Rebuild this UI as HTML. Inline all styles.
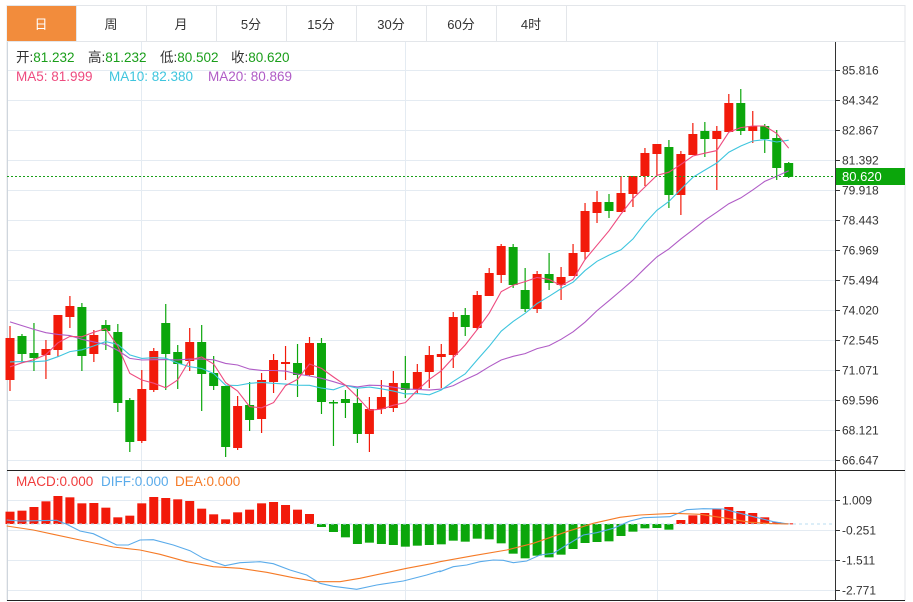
<!DOCTYPE html>
<html><head><meta charset="utf-8"><style>
body{margin:0;background:#fff;width:913px;height:602px;overflow:hidden;font-family:"Liberation Sans","Noto Sans CJK SC",sans-serif}
</style></head><body>
<svg id="s" width="913" height="602" xmlns="http://www.w3.org/2000/svg" style="position:absolute;left:0;top:0">
<rect x="7" y="5.5" width="898" height="595" fill="none" stroke="#e3e6ea"/>
<rect x="7" y="6" width="69" height="35" fill="#f28c3c"/>
<g stroke="#e3e6ea"><line x1="7" y1="41.5" x2="905" y2="41.5"/>
<line x1="76.5" y1="6" x2="76.5" y2="41"/><line x1="146.5" y1="6" x2="146.5" y2="41"/><line x1="216.5" y1="6" x2="216.5" y2="41"/><line x1="286.5" y1="6" x2="286.5" y2="41"/><line x1="356.5" y1="6" x2="356.5" y2="41"/><line x1="426.5" y1="6" x2="426.5" y2="41"/><line x1="496.5" y1="6" x2="496.5" y2="41"/><line x1="566.5" y1="6" x2="566.5" y2="41"/></g>
<g font-size="13" text-anchor="middle" fill="#333"><text x="41" y="29" fill="#fff">日</text><text x="111" y="29">周</text><text x="181" y="29">月</text><text x="251" y="29">5分</text><text x="321" y="29">15分</text><text x="391" y="29">30分</text><text x="461" y="29">60分</text><text x="531" y="29">4时</text></g>
<g id="grid" stroke="#e4ebf2"></g>
<g font-size="13.5">
<text y="62" fill="#333"><tspan x="16">开:</tspan><tspan fill="#1a9e1a">81.232</tspan><tspan x="88">高:</tspan><tspan fill="#1a9e1a">81.232</tspan><tspan x="160">低:</tspan><tspan fill="#1a9e1a">80.502</tspan><tspan x="231">收:</tspan><tspan fill="#1a9e1a">80.620</tspan></text>
<text y="81" fill="#ee4b7f"><tspan x="16">MA5: 81.999</tspan><tspan x="109" fill="#3ec5de">MA10: 82.380</tspan><tspan x="208" fill="#b05cc6">MA20: 80.869</tspan></text>
<text y="486" fill="#f03c3c"><tspan x="16">MACD:0.000</tspan><tspan x="101" fill="#5aabea">DIFF:0.000</tspan><tspan x="175" fill="#f57a26">DEA:0.000</tspan></text></g>
<g id="c"></g>
<line x1="835.5" y1="42" x2="835.5" y2="601" stroke="#333"/>
<line x1="7" y1="470.5" x2="905" y2="470.5" stroke="#222"/>
<line x1="7" y1="600.5" x2="905" y2="600.5" stroke="#222"/>
<g id="ax" font-size="12" fill="#333"></g>
</svg>
<script>
var NS="http://www.w3.org/2000/svg",c=document.getElementById('c'),g=document.getElementById('grid'),ax=document.getElementById('ax');
function el(p,t,a,txt){var e=document.createElementNS(NS,t);for(var k in a)e.setAttribute(k,a[k]);if(txt)e.textContent=txt;p.appendChild(e);return e;}
var labs=["85.816","84.342","82.867","81.392","79.918","78.443","76.969","75.494","74.020","72.545","71.071","69.596","68.121","66.647"];
labs.forEach(function(l,i){var y=70+i*30+.5;el(g,'line',{x1:7,x2:835,y1:y,y2:y});el(ax,'line',{x1:835,x2:840,y1:y,y2:y,stroke:'#333'});el(ax,'text',{x:842,y:y+4},l);});
[["1.009",500],["-0.251",530],["-1.511",560],["-2.771",590]].forEach(function(a){var y=a[1]+.5;el(g,'line',{x1:7,x2:835,y1:y,y2:y});el(ax,'line',{x1:835,x2:840,y1:y,y2:y,stroke:'#333'});el(ax,'text',{x:842,y:y+4},a[0]);});
[141.5,405.5,657.5].forEach(function(x){el(g,'line',{x1:x,x2:x,y1:42,y2:600});});
el(g,'line',{x1:7.5,x2:7.5,y1:42,y2:600,stroke:'#cfd6dd'});
var K=[[1,338,380,326,391],[0,336,354,334,363],[0,353,358,323,371],[1,349,355,340,379],[1,315,350,315,357],[1,306,317,296,328],[0,307,356,303,371],[1,335,354,330,362],[0,325,331,320,350],[0,332,403,324,412],[0,400,442,398,452],[1,389,441,370,443],[1,351,390,348,392],[0,323,354,304,390],[0,352,364,345,389],[1,342,361,328,371],[0,342,374,325,411],[0,373,386,356,390],[0,386,447,386,457],[1,406,448,396,450],[0,405,420,382,431],[1,380,419,373,433],[1,360,382,354,393],[1,362,364,346,380],[0,363,375,344,397],[1,343,375,337,376],[0,343,402,338,414],[0,402,403,400,446],[0,399,403,390,418],[0,403,434,389,443],[1,409,434,397,452],[1,397,409,380,414],[1,383,408,371,412],[0,383,390,356,398],[1,372,389,364,393],[1,355,372,346,388],[1,354,357,344,388],[1,317,355,312,368],[0,315,327,308,336],[1,295,328,291,330],[1,273,296,268,296],[1,246,275,244,283],[0,247,285,244,288],[0,290,309,268,312],[1,274,309,271,313],[0,274,283,253,290],[1,277,285,267,300],[1,253,276,244,276],[1,211,252,203,260],[1,202,213,191,223],[0,202,211,194,218],[1,193,212,176,212],[1,176,194,176,207],[1,153,176,148,186],[1,144,154,144,176],[0,147,195,140,208],[1,154,195,151,215],[1,134,155,123,155],[0,131,139,122,157],[1,131,139,126,190],[1,103,132,94,132],[0,103,131,89,135],[1,126,131,111,143],[0,126,139,124,153],[0,138,168,130,180],[0,163,177,162,178]];
function X(i){return 10+i*11.98;}
var closes=K.map(function(k){return k[0]?k[1]:k[2];});
var pad=[];for(var i=0;i<10;i++)pad.push(282);for(i=0;i<5;i++)pad.push(357);for(i=0;i<4;i++)pad.push(374);
var all=pad.concat(closes);
function ma(n,col){var pts=[];for(var i=0;i<K.length;i++){var s=0;for(var j=0;j<n;j++)s+=all[i+19-j];pts.push(X(i).toFixed(1)+','+(s/n).toFixed(1));}
el(c,'polyline',{points:pts.join(' '),fill:'none',stroke:col,'stroke-width':1.1});}
K.forEach(function(k,i){var x=X(i),col=k[0]?'#f21a0a':'#0ba60b';
el(c,'line',{x1:x,x2:x,y1:k[3],y2:k[4],stroke:col,'stroke-width':1.2});
el(c,'rect',{x:x-4.5,y:k[1],width:9,height:Math.max(1.5,k[2]-k[1]),fill:col});});
ma(20,'#b05cc6');ma(10,'#3ec5de');ma(5,'#ee4b7f');
el(c,'line',{x1:7,x2:835,y1:176.5,y2:176.5,stroke:'#1aa01a','stroke-dasharray':'2,2'});
el(c,'rect',{x:836,y:168,width:69,height:17,fill:'#0ba60b'});
el(c,'text',{x:842,y:181,fill:'#fff','font-size':13},'80.620');
var Z=524;
var red1=[140,137,126,109,93,97,115,114,128,157,152,115,96,99,103,108,131,148,163,142,134,115,111,120,134,147];
var grn=[186,201,217,237,233,237,240,245,242,240,238,227,230,221,223,235,266,280,272,277,269,252,234,231,229,213,200,190,189,194];
var red2=[165,151,144,132,126,138,144,157,172,175];
function bar(i,zy,col){var y=465+zy/3;var t=Math.min(y,Z),h=Math.abs(y-Z);el(c,'rect',{x:X(i)-4.5,y:t,width:9,height:Math.max(h,1),fill:col});}
red1.forEach(function(v,i){bar(i,v,'#f21a0a');});
grn.forEach(function(v,i){bar(26+i,v,'#0ba60b');});
red2.forEach(function(v,i){bar(56+i,v,'#f21a0a');});
el(c,'line',{x1:7,x2:835,y1:Z,y2:Z,stroke:'#b8dcf0','stroke-dasharray':'3,3'});
function pl(a,b,col){var p=[];a.forEach(function(q){p.push((q[0]/3).toFixed(1)+','+(465+q[1]/3).toFixed(1));});b.forEach(function(q){p.push((440+q[0]/3).toFixed(1)+','+(465+q[1]/3).toFixed(1));});
el(c,'polyline',{points:p.join(' '),fill:'none',stroke:col,'stroke-width':1.1});}
pl([[20,165],[60,168],[170,166],[200,178],[240,198],[280,206],[350,240],[385,240],[420,225],[460,224],[520,240],[570,257],[610,280],[675,302],[720,293],[780,290],[820,296],[870,315],[920,330],[960,355],[1000,364],[1070,373],[1130,360],[1210,348],[1280,330],[1320,318]],
[[0,320],[40,305],[80,300],[120,290],[160,285],[190,286],[220,293],[260,288],[300,270],[340,265],[380,240],[430,210],[470,203],[520,190],[570,168],[610,158],[690,155],[740,134],[790,131],[850,132],[900,145],[960,160],[1000,170],[1045,177]],'#5aabea');
pl([[20,183],[100,195],[160,208],[240,225],[340,246],[420,255],[480,268],[560,290],[640,305],[720,310],[800,322],[880,338],[950,350],[1020,350],[1080,340],[1150,325],[1220,310],[1300,295]],
[[0,290],[100,272],[200,255],[280,235],[380,200],[460,175],[540,157],[600,150],[700,145],[780,148],[860,160],[930,172],[1000,176],[1045,177]],'#f57a26');
</script>
</body></html>
